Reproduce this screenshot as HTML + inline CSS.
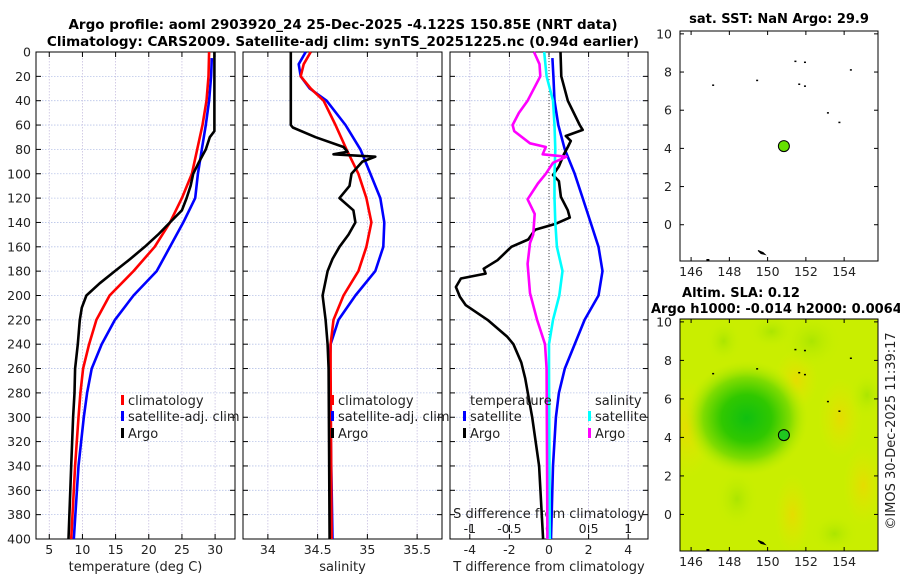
<!DOCTYPE html>
<html><head><meta charset="utf-8"><style>
body{margin:0;background:#fff;}
svg{display:block;font-family:"DejaVu Sans","Liberation Sans",sans-serif;}
</style></head><body>
<svg id="c" width="900" height="580" viewBox="0 0 900 580">
<defs>
<radialGradient id="gblob" cx="50%" cy="50%" r="50%"><stop offset="0" stop-color="#10c010"/><stop offset="0.4" stop-color="#30c800"/><stop offset="0.7" stop-color="#80dc00"/><stop offset="1" stop-color="#c0ec00" stop-opacity="0"/></radialGradient>
<radialGradient id="oblob" cx="50%" cy="50%" r="50%"><stop offset="0" stop-color="#ecd800" stop-opacity="0.8"/><stop offset="1" stop-color="#e0e800" stop-opacity="0"/></radialGradient>
<radialGradient id="lgblob" cx="50%" cy="50%" r="50%"><stop offset="0" stop-color="#a8e400" stop-opacity="0.9"/><stop offset="1" stop-color="#c8f000" stop-opacity="0"/></radialGradient>
</defs>
</svg>
<script>
// ---- data ----
const depthTicks=[0,20,40,60,80,100,120,140,160,180,200,220,240,260,280,300,320,340,360,380,400];
const tempTicks=[5,10,15,20,25,30];
const salTicks=[34,34.5,35,35.5];
const salTickLabels=['34','34.5','35','35.5'];
const tdiffTicks=[-4,-2,0,2,4];
const sdiffTicks=[-1,-0.5,0,0.5,1];
const sdiffLabels=['-1','-0.5','0','0.5','1'];
const lonTicks=[146,148,150,152,154];
const latTicks=[0,2,4,6,8,10];

const argoTD=[0,20,40,60,65,70,80,90,100,110,120,130,140,150,160,170,180,190,200,210,220,240,260,280,300,340,400];
const argoT=[29.9,29.9,29.9,29.9,29.9,29.2,28.6,27.6,26.7,26.3,25.7,25.0,23.2,21.4,19.4,17.2,14.9,12.6,10.6,9.9,9.6,9.3,8.9,8.8,8.6,8.3,7.9];
const climTD=[0,20,40,60,80,100,120,140,160,180,200,220,240,260,280,300,340,400];
const climT=[29.1,29.0,28.7,28.1,27.3,26.5,25.0,23.2,20.9,17.7,14.1,12.1,11.0,10.1,9.7,9.4,8.9,8.3];
const satTD=[5,20,40,60,80,100,120,140,160,180,200,220,240,260,280,300,340,400];
const satT=[29.5,29.4,29.1,28.6,28.0,27.4,27.0,25.2,23.2,21.2,17.7,14.9,12.9,11.4,10.7,10.2,9.4,8.7];

const argoSD=[0,60,62,70,78,82,84,86,90,100,110,120,130,140,150,160,170,180,200,220,240,260,400];
const argoS=[34.23,34.23,34.25,34.48,34.76,34.8,34.66,35.08,34.95,34.84,34.82,34.72,34.86,34.88,34.81,34.72,34.65,34.6,34.55,34.58,34.6,34.61,34.62];
const climSD=[0,10,20,30,40,60,80,100,120,140,160,180,200,220,240,260,400];
const climS=[34.43,34.36,34.33,34.43,34.56,34.68,34.79,34.91,34.99,35.04,34.99,34.91,34.76,34.66,34.63,34.63,34.64];
const satSD=[0,10,20,30,40,60,80,100,120,140,160,180,200,220,240,260,400];
const satS=[34.38,34.31,34.33,34.42,34.59,34.78,34.93,35.03,35.13,35.17,35.16,35.08,34.88,34.71,34.63,34.62,34.65];

const dSatTD=[5,20,40,60,80,100,120,140,160,180,200,220,240,260,280,300,340,400];
const dSatT=[0.17,0.22,0.28,0.47,0.8,1.3,1.7,2.1,2.5,2.7,2.5,1.8,1.3,0.8,0.5,0.35,0.2,0.1];
const dArgoTD=[0,20,40,60,64,69,73,78,84,94,101,106,119,130,136,141,146,154,160,171,178,182,186,193,201,208,220,234,240,255,268,300,340,400];
const dArgoT=[0.58,0.62,0.95,1.55,1.7,0.85,1.1,0.95,0.75,0.5,0.2,0.5,0.6,0.95,1.05,0.35,-0.7,-1.05,-1.9,-2.6,-3.3,-3.2,-4.45,-4.7,-4.5,-4.2,-3.1,-2.1,-1.8,-1.4,-1.2,-0.85,-0.5,-0.3];
const dSatSD=[0,20,40,60,80,100,120,140,160,180,200,220,240,260,400];
const dSatS=[-0.06,-0.03,0.05,0.07,0.08,0.07,0.07,0.08,0.1,0.17,0.13,0.05,0.0,0.0,0.01];
const dArgoSD=[0,10,20,40,50,60,65,75,78,84,86,91,100,108,121,133,150,157,174,198,220,240,260,400];
const dArgoS=[-0.19,-0.12,-0.11,-0.27,-0.38,-0.46,-0.44,-0.24,-0.04,-0.08,0.22,0.05,-0.04,-0.14,-0.27,-0.18,-0.2,-0.24,-0.27,-0.24,-0.15,-0.05,-0.03,-0.02];

const argoLon=150.85, argoLat=4.12;

// ---- helpers ----
const svg=document.getElementById('c');
const NS='http://www.w3.org/2000/svg';
function mk(tag,attrs,parent){const e=document.createElementNS(NS,tag);for(const k in attrs)e.setAttribute(k,attrs[k]);(parent||svg).appendChild(e);return e;}
function txt(s,x,y,attrs,parent){const e=mk('text',Object.assign({x:x,y:y},attrs),parent);e.textContent=s;return e;}

const Y0=52,Y1=539;
const yD=d=>Y0+(d/400)*(Y1-Y0);
function lin(d0,d1,r0,r1){return v=>r0+(v-d0)/(d1-d0)*(r1-r0);}

const panels=[
 {name:'temperature',x0:36,x1:235,sx:lin(3,33,36,235),ticks:tempTicks,labels:tempTicks.map(String),title:'temperature (deg C)'},
 {name:'salinity',x0:243,x1:442,sx:lin(33.75,35.75,243,442),ticks:salTicks,labels:salTickLabels,title:'salinity'},
 {name:'difference',x0:450,x1:648,sx:lin(-5,5,450,648),ticks:tdiffTicks,labels:tdiffTicks.map(String),title:'T difference from climatology'}
];

panels.forEach((p,pi)=>{
  const g=mk('g',{});
  
  
  depthTicks.forEach(d=>{mk('line',{x1:p.x0,x2:p.x1,y1:yD(d),y2:yD(d),stroke:'#b8c4e8','stroke-width':0.8,'stroke-dasharray':'1.5,1.5'},g);});
  let vt=p.ticks.slice(); if(pi===2) vt=vt.concat(sdiffTicks.map(v=>v*4));
  vt.forEach(v=>{mk('line',{x1:p.sx(v),x2:p.sx(v),y1:Y0,y2:Y1,stroke:'#c8c0e0','stroke-width':0.8,'stroke-dasharray':'1.5,1.5'},g);});
  mk('rect',{x:p.x0,y:Y0,width:p.x1-p.x0,height:Y1-Y0,fill:'none',stroke:'#000','stroke-width':1},g);
  depthTicks.forEach(d=>{
    mk('line',{x1:p.x0,x2:p.x0+5,y1:yD(d),y2:yD(d),stroke:'#000'},g);
    mk('line',{x1:p.x1-5,x2:p.x1,y1:yD(d),y2:yD(d),stroke:'#000'},g);
    if(pi===0){const t=txt(String(d),31,yD(d)+4.5,{'text-anchor':'end','font-size':12.5,fill:'#222'},g);
      }
  });
  p.ticks.forEach((v,i)=>{
    mk('line',{x1:p.sx(v),x2:p.sx(v),y1:Y1-5,y2:Y1,stroke:'#000'},g);
    mk('line',{x1:p.sx(v),x2:p.sx(v),y1:Y0,y2:Y0+5,stroke:'#000'},g);
    const t=txt(p.labels[i],p.sx(v),554,{'text-anchor':'middle','font-size':12.5,fill:'#222'},g);
    
  });
  const at=txt(p.title,(p.x0+p.x1)/2,571,{'text-anchor':'middle','font-size':13,fill:'#222'},g);
  
  p.g=g;
});

function series(p,ds,vs,color,name,w){
  const pts=ds.map((d,i)=>p.sx(vs[i]).toFixed(1)+','+yD(d).toFixed(1)).join(' ');
  const e=mk('polyline',{points:pts,fill:'none',stroke:color,'stroke-width':w||2.6,'stroke-linejoin':'round'},p.g);
  
  
}
const P3=panels[2];
mk('line',{x1:P3.sx(0),x2:P3.sx(0),y1:Y0,y2:Y1,stroke:'#444','stroke-width':1,'stroke-dasharray':'1,2'},P3.g);
const sx3=v=>P3.sx(v*4);
sdiffTicks.forEach((v,i)=>{
  mk('line',{x1:sx3(v),x2:sx3(v),y1:Y1-14,y2:Y1-7,stroke:'#000'},P3.g);
  const t=txt(sdiffLabels[i],sx3(v),533,{'text-anchor':'middle','font-size':12.5,fill:'#222'},P3.g);
  
});
const st=txt('S difference from climatology',549,518,{'text-anchor':'middle','font-size':13,fill:'#222'},P3.g);


series(panels[0],satTD,satT,'#0000ff','temp-satellite-line');
series(panels[0],climTD,climT,'#ff0000','temp-climatology-line');
series(panels[0],argoTD,argoT,'#000','temp-argo-line');
series(panels[1],satSD,satS,'#0000ff','sal-satellite-line');
series(panels[1],climSD,climS,'#ff0000','sal-climatology-line');
series(panels[1],argoSD,argoS,'#000','sal-argo-line');
series(P3,dSatTD,dSatT,'#0000ff','tdiff-satellite-line');
series(P3,dArgoTD,dArgoT,'#000','tdiff-argo-line');
const sP={x0:450,x1:648,sx:v=>sx3(v),g:P3.g};
series(sP,dSatSD,dSatS,'#00ffff','sdiff-satellite-line');
series(sP,dArgoSD,dArgoS,'#ff00ff','sdiff-argo-line');

function legend(x,y,color,label,g){
  const e=mk('g',{},g);
  
  
  mk('rect',{x:x-7,y:y-10,width:3,height:10,fill:color},e);
  txt(label,x,y,{'font-size':13,fill:'#222'},e);
}
legend(128,405,'#ff0000','climatology',svg);
legend(128,421,'#0000ff','satellite-adj. clim',svg);
legend(128,438,'#000','Argo',svg);
legend(338,405,'#ff0000','climatology',svg);
legend(338,421,'#0000ff','satellite-adj. clim',svg);
legend(338,438,'#000','Argo',svg);
const lh1=txt('temperature',470,405,{'font-size':13,fill:'#222'});


legend(470,421,'#0000ff','satellite',svg);
legend(470,438,'#000','Argo',svg);
const lh2=txt('salinity',595,405,{'font-size':13,fill:'#222'});


legend(595,421,'#00ffff','satellite',svg);
legend(595,438,'#ff00ff','Argo',svg);

const t1=txt('Argo profile: aoml 2903920_24 25-Dec-2025 -4.122S 150.85E (NRT data)',343,29,{'text-anchor':'middle','font-size':13.5,'font-weight':'bold',fill:'#000'});

const t2=txt('Climatology: CARS2009. Satellite-adj clim: synTS_20251225.nc (0.94d earlier)',343,46,{'text-anchor':'middle','font-size':13.5,'font-weight':'bold',fill:'#000'});


function map(x0,y0,x1,y1,name,heat){
  const g=mk('g',{});
  
  
  const lx=lin(145.42,155.77,x0,x1), ly=lin(10.15,-1.9,y0,y1);
  if(heat){
    const cp=mk('clipPath',{id:'clip'+name},g);
    mk('rect',{x:x0,y:y0,width:x1-x0,height:y1-y0},cp);
    const h=mk('g',{'clip-path':'url(#clip'+name+')'},g);
    
    
    mk('rect',{x:x0,y:y0,width:x1-x0,height:y1-y0,fill:'#c9ee00'},h);
    [[145.8,4.5,26,50,'oblob'],[151.5,7,22,30,'oblob'],[151.3,0,18,40,'oblob'],[153.8,5,22,40,'oblob'],[155,1.5,20,40,'oblob'],
     [152.3,9,30,28,'lgblob'],[150.2,9.5,24,18,'lgblob'],[155.2,6.2,18,24,'lgblob'],[147.7,9,18,22,'lgblob'],[148.4,0.8,22,30,'lgblob'],[153.5,-1,24,20,'lgblob'],
     [148.9,5,62,58,'gblob']].forEach(b=>{mk('ellipse',{cx:lx(b[0]),cy:ly(b[1]),rx:b[2],ry:b[3],fill:'url(#'+b[4]+')'},h);});
  }
  mk('rect',{x:x0,y:y0,width:x1-x0,height:y1-y0,fill:'none',stroke:'#000'},g);
  [[151.4,8.6],[151.9,8.55],[154.3,8.15],[147.1,7.35],[149.4,7.6],[151.6,7.4],[151.9,7.3],[153.1,5.9],[153.7,5.4]].forEach(c=>{
    mk('rect',{x:lx(c[0]),y:ly(c[1]),width:2,height:1.5,fill:'#000'},g);});
  mk('path',{d:`M${lx(149.5)},${ly(-1.35)} l3,3 l4,1 l-2,-2 z`,fill:'#000',stroke:'#000'},g);
  mk('rect',{x:lx(146.8),y:y1-2,width:3,height:2,fill:'#000'},g);
  lonTicks.forEach(v=>{
    mk('line',{x1:lx(v),x2:lx(v),y1:y1-4,y2:y1,stroke:'#000'},g);
    mk('line',{x1:lx(v),x2:lx(v),y1:y0,y2:y0+4,stroke:'#000'},g);
    const t=txt(String(v),lx(v),y1+15,{'text-anchor':'middle','font-size':12.5,fill:'#222'},g);
    
  });
  latTicks.forEach(v=>{
    mk('line',{x1:x0,x2:x0+4,y1:ly(v),y2:ly(v),stroke:'#000'},g);
    mk('line',{x1:x1-4,x2:x1,y1:ly(v),y2:ly(v),stroke:'#000'},g);
    const t=txt(String(v),x0-8,ly(v)+4.5,{'text-anchor':'end','font-size':12.5,fill:'#222'},g);
    
  });
  const dot=mk('circle',{cx:lx(argoLon),cy:ly(argoLat),r:5.5,fill:heat?'#20c820':'#66e000',stroke:'#000','stroke-width':1},g);
  
  
}
map(680,31,878,261,'sst-map',false);
map(680,319,878,551,'sla-map',true);
const m1=txt('sat. SST: NaN Argo: 29.9',779,23,{'text-anchor':'middle','font-size':13,'font-weight':'bold',fill:'#000'});

const m2=txt('Altim. SLA: 0.12',741,297,{'text-anchor':'middle','font-size':13,'font-weight':'bold',fill:'#000'});

const m3=txt('Argo h1000: -0.014 h2000: 0.0064',651,313,{'font-size':13,'font-weight':'bold',fill:'#000'});

const cr=txt('©IMOS 30-Dec-2025 11:39:17',0,0,{'text-anchor':'middle','font-size':13,fill:'#222',transform:'translate(895,431) rotate(-90)'});

</script>
</body></html>
